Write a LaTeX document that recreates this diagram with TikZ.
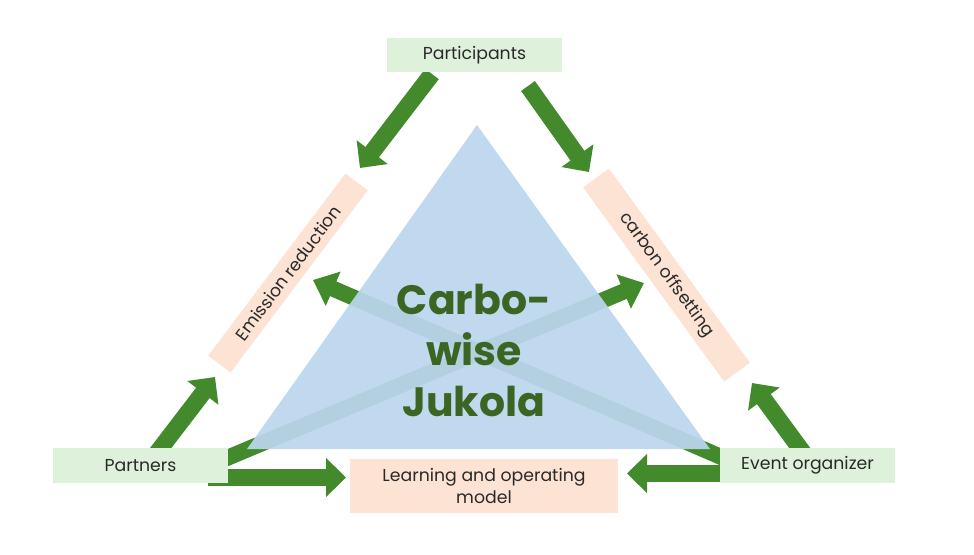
\documentclass[tikz,border=0pt]{standalone}
\usepackage{fontspec}
\setmainfont{Poppins}
\usetikzlibrary{arrows.meta}
\definecolor{garr}{HTML}{428A2C}
\definecolor{lgreen}{HTML}{DEF1DA}
\definecolor{peach}{HTML}{FCE3D4}
\definecolor{tblue}{HTML}{BBD6EE}
\definecolor{dgreen}{HTML}{3B6522}
\definecolor{labc}{HTML}{2A2A2A}
\pgfdeclarelayer{bg}
\pgfdeclarelayer{tri}
\pgfdeclarelayer{arr}
\pgfsetlayers{bg,tri,arr,main}
\tikzset{
  labelfont/.style={font=\fontsize{17.3}{22}\selectfont, text=labc},
  greenbox/.style={labelfont, fill=lgreen, inner sep=0pt, align=center},
  peachbox/.style={labelfont, fill=peach, inner sep=0pt, align=center},
  bigarrow/.style={draw=garr, line width=17pt, -{Triangle[length=20pt,width=38pt]}},
  crossarrow/.style={draw=garr, line width=16pt, -{Triangle[length=22pt,width=36pt]}},
}
\begin{document}
\begin{tikzpicture}[x=1pt,y=-1pt]
\useasboundingbox (0,0) rectangle (974,554);

% boxes
\node[greenbox, minimum width=175pt, minimum height=34pt] (P) at (474.5,55) {Participants};
\node[greenbox, minimum width=175pt, minimum height=35pt] (Pa) at (140.5,465.5) {Partners};
\node[greenbox, minimum width=175pt, minimum height=35pt] (Ev) at (807.5,465.5) {Event organizer};
\node[peachbox, minimum width=268pt, minimum height=54pt] (L) at (484,486) {Learning and operating\\model};
\node[peachbox, rotate=53, minimum width=228pt, minimum height=28pt] (E) at (288,273) {Emission reduction};
\node[peachbox, rotate=-54, minimum width=240pt, minimum height=32pt] (C) at (666.5,275) {carbon offsetting};

% arrow end points
\coordinate (a1s) at (432,74);
\coordinate (a1e) at (360,168);
\coordinate (a2s) at (528,86);
\coordinate (a2e) at (589,172);
\coordinate (a3s) at (150,462);
\coordinate (a3e) at (215,377);
\coordinate (a4s) at (810,462);
\coordinate (a4e) at (752,383);
\coordinate (a5s) at (208,477.5);
\coordinate (a5e) at (346,477.5);
\coordinate (a6s) at (768,473.5);
\coordinate (a6e) at (627,473.5);
\coordinate (x1s) at (215,463);
\coordinate (x1e) at (644,283);
\coordinate (x2s) at (735,463);
\coordinate (x2e) at (313,280);

\begin{pgfonlayer}{bg}
  \draw[crossarrow] (x1s) -- (x1e);
  \draw[crossarrow] (x2s) -- (x2e);
\end{pgfonlayer}

\begin{pgfonlayer}{tri}
  \coordinate (tA) at (477,125);
  \coordinate (tB) at (710,449);
  \coordinate (tC) at (247,449);
  \fill[tblue, fill opacity=0.93] (tA) -- (tB) -- (tC) -- cycle;
\end{pgfonlayer}

\begin{pgfonlayer}{arr}
  \draw[bigarrow] (a1s) -- (a1e);
  \draw[bigarrow] (a2s) -- (a2e);
  \draw[bigarrow] (a3s) -- (a3e);
  \draw[bigarrow] (a4s) -- (a4e);
  \draw[bigarrow] (a5s) -- (a5e);
  \draw[bigarrow] (a6s) -- (a6e);
\end{pgfonlayer}

\node[text=dgreen, font=\fontsize{41}{51}\selectfont\bfseries, align=center] (title) at (474,350) {Carbo-\\wise\\Jukola};
\end{tikzpicture}
\end{document}
